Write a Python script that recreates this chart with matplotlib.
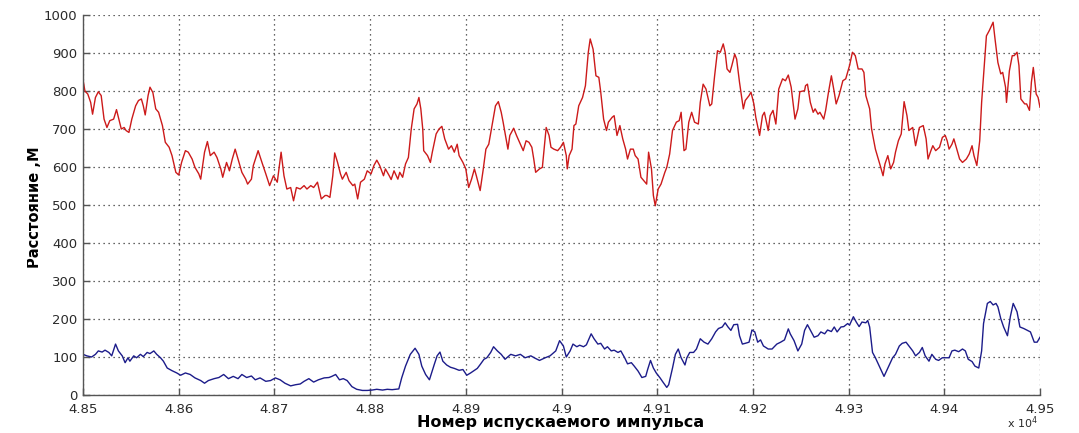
import matplotlib
matplotlib.use("Agg")
import matplotlib.pyplot as plt
from matplotlib.ticker import FixedLocator, FuncFormatter
from matplotlib.transforms import Bbox, TransformedBbox

# дальность по номеру импульса: верхняя кривая (красная) и нижняя (синяя)
red_x = [
    48500, 48502, 48505, 48508, 48510, 48513, 48516, 48519, 48522, 48525,
    48528, 48532, 48535, 48537, 48540, 48543, 48545, 48548, 48551, 48555,
    48558, 48561, 48563, 48565, 48568, 48570, 48573, 48576, 48579, 48583,
    48586, 48590, 48593, 48597, 48600, 48603, 48607, 48610, 48614, 48617,
    48621, 48623, 48627, 48630, 48633, 48637, 48640, 48644, 48646, 48650,
    48653, 48656, 48659, 48663, 48666, 48670, 48672, 48676, 48678, 48683,
    48687, 48691, 48695, 48699, 48703, 48707, 48710, 48713, 48717, 48720,
    48723, 48727, 48731, 48734, 48738, 48741, 48745, 48749, 48753,
    48755, 48758, 48761, 48763, 48766, 48769, 48771, 48775, 48778, 48782,
    48784, 48787, 48790, 48794, 48797, 48801, 48804, 48807, 48810, 48814,
    48816, 48820, 48822, 48825, 48829, 48831, 48834, 48837, 48840, 48843,
    48846, 48849, 48851, 48853, 48855, 48856, 48860, 48863, 48865, 48869,
    48872, 48875, 48878, 48882, 48885, 48888, 48891, 48893, 48897, 48900,
    48903, 48906, 48909, 48911, 48915, 48918, 48921, 48924, 48928, 48931,
    48934, 48937, 48939, 48944, 48946, 48950, 48953, 48957, 48960, 48963,
    48966, 48969, 48971, 48973, 48977, 48980, 48984, 48987, 48989, 48992,
    48996, 48999, 49002, 49005,
    49006, 49008, 49011, 49013, 49015, 49018, 49022, 49025, 49028, 49030,
    49033, 49036, 49039, 49041, 49044, 49047, 49049, 49053, 49055, 49058,
    49061, 49064, 49067, 49069, 49072, 49075, 49077, 49080, 49083, 49086,
    49089, 49091, 49094, 49096, 49098, 49101, 49104, 49108, 49110, 49113,
    49116, 49120, 49123, 49125, 49128, 49130, 49133, 49136, 49139, 49143,
    49145, 49148, 49151, 49155, 49157, 49160, 49163, 49166, 49169, 49171,
    49173, 49176, 49178, 49181, 49183, 49186, 49190, 49192, 49196, 49198,
    49201, 49203, 49207, 49210, 49212, 49216, 49218, 49221, 49224, 49227,
    49231, 49234, 49237, 49240, 49244, 49247, 49249, 49254,
    49255, 49257, 49260, 49263, 49265, 49268, 49270, 49274, 49276, 49279,
    49282, 49285, 49287, 49290, 49294, 49297, 49301, 49304, 49307, 49310,
    49314, 49316, 49318, 49322, 49324, 49328, 49330, 49333, 49336, 49338,
    49341, 49344, 49347, 49349, 49352, 49355, 49358, 49361, 49363, 49367,
    49370, 49374, 49378, 49381, 49383, 49386, 49388, 49391, 49395, 49398,
    49401, 49403, 49405, 49408, 49410, 49413, 49416, 49419, 49423, 49426,
    49429, 49431, 49434, 49437, 49439, 49442, 49444, 49447, 49451, 49453,
    49456, 49459, 49461, 49464, 49465, 49468, 49471, 49473, 49476, 49478,
    49480, 49484, 49486, 49489, 49491, 49493, 49496, 49498, 49500,
]
red_y = [
    830, 800, 792, 770, 739, 783, 798, 788, 726, 704,
    722, 726, 751, 731, 700, 704, 696, 691, 726, 761,
    775, 779, 761, 737, 788, 810, 796, 753, 744, 709,
    665, 652, 630, 586, 579, 612, 643, 639, 621, 599,
    582, 568, 639, 667, 630, 639, 625, 595, 573, 612,
    590, 621, 647, 612, 586, 568, 555, 568, 604, 643,
    612, 582, 551, 577, 560, 639, 577, 542, 546, 511,
    546, 542, 551, 542, 551, 546, 560, 516, 525,
    525, 520, 577, 637, 612, 582, 568, 586, 564, 551,
    555, 516, 560, 568, 590, 582, 604, 618, 604, 577,
    595, 577, 567, 590, 568, 586, 573, 608, 625, 700,
    753, 766, 783, 753, 700, 643, 630, 612, 639, 687,
    700, 707, 674, 647, 656, 639, 660, 630, 612, 595,
    546, 568, 595, 577, 538, 590, 647, 660, 718, 761,
    772, 744, 718, 647, 683, 702, 683, 660, 643, 669,
    665, 652, 621, 586, 595, 599, 704, 683, 652, 647,
    643, 652, 665, 630,
    595, 630, 647, 709, 713, 761, 783, 814, 902, 937,
    910, 840, 836, 797, 726, 696, 718, 731, 735, 683,
    709, 674, 647, 621, 647, 647, 630, 621, 573, 564,
    555, 639, 595, 525, 498, 542, 555, 586, 599, 634,
    696, 718, 722, 744, 643, 647, 718, 744, 718, 713,
    770, 818, 805, 761, 766, 840, 906, 902, 924, 902,
    858, 849, 867, 897, 884, 823, 753, 775, 788, 797,
    766, 731, 683, 735, 744, 696, 735, 749, 713, 805,
    832, 827, 842, 810, 726, 753, 798, 801,
    814, 818, 770, 744, 753, 739, 744, 726, 749, 797,
    840, 797, 766, 788, 827, 832, 867, 902, 893, 858,
    858, 849, 788, 753, 700, 647, 630, 604, 577, 608,
    630, 595, 612, 639, 669, 687, 772, 735, 696, 704,
    656, 704, 709, 674, 621, 643, 656, 643, 652, 678,
    683, 669, 647, 660, 674, 647, 621, 612, 621, 634,
    656, 630, 604, 669, 770, 875, 945, 959, 981, 937,
    875, 845, 849, 810, 770, 853, 893, 893, 902, 867,
    779, 766, 766, 749, 823, 862, 792, 783, 757,
]

blue_x = [
    48500, 48504, 48509, 48513, 48516, 48520, 48523, 48527, 48530, 48534,
    48537, 48541, 48544, 48547, 48549, 48553, 48556, 48560, 48563, 48567,
    48570, 48574, 48577, 48581, 48584, 48588, 48593, 48598, 48602, 48607,
    48612, 48617, 48623, 48627, 48631, 48637, 48642, 48647, 48652, 48657,
    48662, 48666, 48671, 48676, 48680, 48685, 48691, 48696, 48701, 48706,
    48711, 48717, 48722, 48727, 48731, 48736, 48741, 48746, 48752, 48757,
    48760, 48764, 48768, 48772, 48776, 48781, 48786, 48792, 48797, 48802,
    48807, 48813, 48818, 48823, 48830, 48833, 48837, 48842, 48847, 48851,
    48854, 48858, 48862, 48867, 48870, 48873, 48876, 48880, 48884, 48888,
    48893, 48897, 48901, 48905, 48908, 48912, 48915, 48919, 48922, 48926,
    48929, 48933, 48937, 48941, 48947, 48952, 48957, 48962, 48968, 48973,
    48977, 48983, 48988, 48994, 48998,
    49002, 49005, 49009, 49012, 49016, 49019, 49023, 49026, 49031, 49034,
    49038, 49041, 49045, 49048, 49052, 49055, 49059, 49062, 49066, 49069,
    49073, 49076, 49080, 49084, 49088, 49090, 49093, 49096, 49099, 49103,
    49106, 49110, 49112, 49116, 49119, 49122, 49125, 49129, 49131, 49134,
    49138, 49141, 49145, 49149, 49153, 49157, 49161, 49164, 49168, 49171,
    49174, 49177, 49180, 49184, 49186, 49189, 49192, 49196, 49199, 49202,
    49205, 49208, 49211, 49216, 49220, 49225, 49229, 49233, 49237, 49239,
    49243, 49247, 49251, 49254, 49257, 49261, 49264, 49268, 49271, 49275,
    49278, 49282, 49285, 49288, 49292, 49295, 49299, 49301, 49305, 49308,
    49311, 49314, 49318, 49320, 49322, 49325, 49328, 49333, 49337, 49341,
    49346, 49349, 49353, 49356, 49360, 49363, 49367, 49370, 49374, 49377,
    49380, 49384, 49387, 49391, 49394, 49398, 49401, 49405, 49408, 49411,
    49415, 49419, 49422, 49425, 49429, 49432, 49436, 49439, 49441, 49445,
    49448, 49451, 49454, 49456, 49459, 49462, 49466, 49469, 49472, 49476,
    49479, 49483, 49487, 49490, 49494, 49497, 49500,
]
blue_y = [
    107, 103, 100, 107, 116, 113, 118, 112, 103, 134,
    116, 103, 85, 98, 89, 103, 98, 107, 101, 112,
    109, 116, 107, 98, 89, 71, 64, 58, 52, 58,
    54, 45, 38, 31, 38, 43, 46, 54, 43, 49,
    43, 54, 46, 50, 40, 45, 36, 38, 45, 40,
    31, 24, 27, 29, 36, 43, 34, 40, 45, 46,
    49, 54, 40, 43, 38, 22, 15, 12, 12, 13,
    15, 13, 15, 14, 16, 45, 76, 107, 123, 107,
    76, 54, 40, 80, 103, 113, 89, 79, 73, 70,
    65, 67, 52, 58, 63, 70, 80, 94, 98, 112,
    127, 116, 107, 94, 107, 103, 107, 98, 103, 96,
    91, 98, 103, 116, 143,
    129, 100, 116, 134, 127, 131, 127, 132, 161, 148,
    134, 136, 121, 127, 116, 118, 112, 116, 98, 82,
    85, 76, 63, 46, 49, 67, 91, 71, 58, 45,
    34, 20, 27, 71, 107, 121, 98, 79, 98, 112,
    112, 121, 148, 139, 134, 148, 166, 175, 179, 190,
    179, 170, 185, 186, 156, 134, 136, 139, 171, 166,
    139, 145, 129, 121, 121, 134, 139, 145, 174, 161,
    143, 116, 134, 170, 185, 166, 152, 156, 166, 161,
    171, 167, 179, 166, 179, 180, 188, 184, 206, 192,
    180, 192, 190, 196, 179, 112, 98, 71, 49, 71,
    98, 107, 129, 136, 139, 129, 116, 103, 112, 125,
    103, 89, 107, 94, 91, 98, 98, 98, 116, 118,
    114, 121, 116, 94, 88, 76, 71, 116, 188, 241,
    246, 237, 241, 232, 201, 179, 156, 206, 241, 219,
    179, 175, 170, 166, 139, 139, 152,
]

x_ticks = [48500, 48600, 48700, 48800, 48900, 49000,
           49100, 49200, 49300, 49400, 49500]
y_ticks = [0, 100, 200, 300, 400, 500, 600, 700, 800, 900, 1000]


def fmt_x(v, pos):
    # подписи в единицах 10^4, без лишних нулей (4.9 вместо 4.90)
    return ("%.2f" % (v / 1e4)).rstrip("0").rstrip(".")


plt.rcParams["font.family"] = ["DejaVu Sans"]

W, H = 1079, 433
fig = plt.figure(figsize=(W / 100, H / 100), dpi=100)
ax = fig.add_axes([83 / W, 1 - 395 / H, 957 / W, 380 / H])

ax.plot(red_x, red_y, color="#cc1a1a", linewidth=1.0)
ax.plot(blue_x, blue_y, color="#1c1c8a", linewidth=1.0)

ax.set_xlim(48500, 49500)
ax.set_ylim(0, 1000)
ax.xaxis.set_major_locator(FixedLocator(x_ticks))
ax.yaxis.set_major_locator(FixedLocator(y_ticks))
ax.xaxis.set_major_formatter(FuncFormatter(fmt_x))

ax.grid(True, color="#333333", linestyle=(0, (1, 3)), linewidth=0.9)
ax.spines["top"].set_visible(False)
ax.spines["right"].set_visible(False)
for s in ("left", "bottom"):
    ax.spines[s].set_color("#555555")
    ax.spines[s].set_linewidth(1.0)
ax.tick_params(direction="in", length=5, width=1, color="#555555",
               labelsize=9.5, labelcolor="#2a2a2a")
ax.tick_params(axis="x", pad=6)
ax.tick_params(axis="y", pad=4)

# подпись оси X
fig.text(561 / W, 1 - 423 / H, "Номер испускаемого импульса",
         ha="center", va="center", fontsize=11.5, fontweight="bold")

# подпись оси Y обрезана слева
ylab = fig.text(42 / W, 1 - 207 / H, "Расстояние ,М", rotation=90,
                ha="right", va="center", fontsize=10.5, fontweight="bold")
ylab.set_clip_box(TransformedBbox(Bbox([[27 / W, 0], [1, 1]]),
                                  fig.transFigure))
ylab.set_clip_on(True)

fig.text(1007 / W, 1 - 428 / H, r"x 10$^4$", fontsize=8, color="#2a2a2a")

fig.savefig("out.png", dpi=100)
